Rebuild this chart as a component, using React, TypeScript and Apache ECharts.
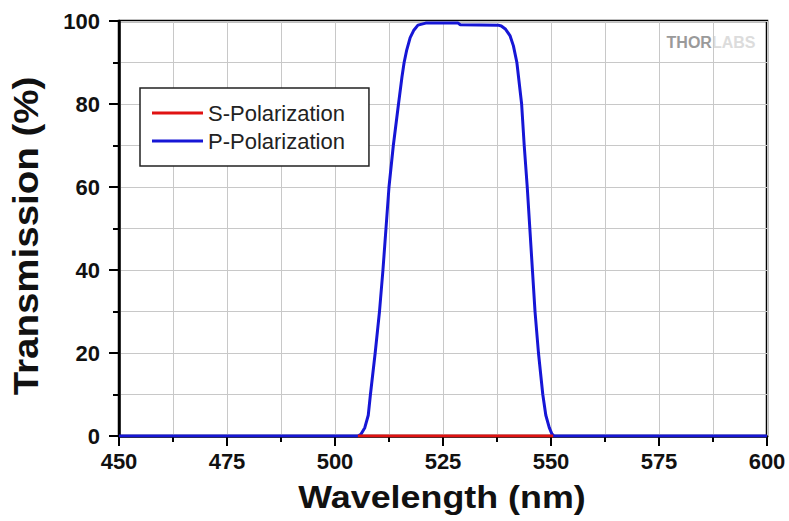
import React, { useEffect, useRef } from "react";
import * as echarts from "echarts";

const wavelengthP = [450, 504, 505.3, 506, 506.9, 507.7, 508.2, 509.3, 510.3, 511.1, 511.8, 512.5, 513.5, 514.7, 515.5, 516.0, 516.6, 517.4, 518.2, 519.2, 521, 528.5, 529, 537.8, 538.5, 539.5, 540.5, 541.3, 542.1, 543.2, 543.8, 544.5, 545.1, 545.7, 546.3, 547.1, 548.1, 548.8, 549.6, 550.2, 550.7, 600];
const transP = [0, 0, 0, 0.4, 2, 5, 10, 20, 30, 40, 50, 60, 70, 80, 86.5, 90, 93, 96, 97.7, 99, 99.5, 99.5, 99.1, 99, 98.8, 98, 96.5, 94, 90, 80, 70, 60, 50, 40, 30, 20, 10, 5, 2, 0.5, 0, 0];

const wavelengthS = [505.3, 550.5];
const transS = [0, 0];

const seriesNames = ["S-Polarization", "P-Polarization"];
const xTicks = { min: 450, max: 600, step: 25 };
const yTicks = { min: 0, max: 100, step: 20 };

const FONT = "Liberation Sans";

export default function App() {
  const ref = useRef<HTMLDivElement>(null);
  useEffect(() => {
    if (!ref.current) return;
    const chart = echarts.init(ref.current, null, { renderer: "svg" });
    const pData = wavelengthP.map((w, i) => [w, transP[i]]);
    const sData = wavelengthS.map((w, i) => [w, transS[i]]);
    const labelStyle = {
      fontSize: 22,
      fontWeight: "bold",
      color: "#111",
      fontFamily: FONT,
    };
    chart.setOption({
      animation: false,
      backgroundColor: "#ffffff",
      textStyle: { fontFamily: FONT },
      grid: {
        left: 119,
        right: 22,
        top: 21,
        bottom: 85,
        show: true,
        borderColor: "#000",
        borderWidth: 2.5,
        backgroundColor: "transparent",
      },
      legend: {
        data: seriesNames,
        orient: "vertical",
        left: 140,
        top: 88,
        padding: [14, 24, 14, 12],
        icon: "rect",
        itemWidth: 51,
        itemHeight: 3,
        itemGap: 6,
        backgroundColor: "#fff",
        borderColor: "#222",
        borderWidth: 1.5,
        borderRadius: 0,
        textStyle: { fontSize: 22, color: "#222", fontFamily: FONT },
      },
      xAxis: {
        type: "value",
        min: xTicks.min,
        max: xTicks.max,
        interval: xTicks.step,
        axisLine: { show: true, lineStyle: { color: "#000", width: 2.5 } },
        axisTick: { show: true, length: 10, lineStyle: { color: "#000", width: 2 } },
        minorTick: { show: true, splitNumber: 2, length: 6, lineStyle: { color: "#000", width: 2 } },
        splitLine: { show: true, lineStyle: { color: "#c8c8c8", width: 1 } },
        minorSplitLine: { show: true, lineStyle: { color: "#c8c8c8", width: 1 } },
        axisLabel: {
          margin: 14,
          ...labelStyle,
          rich: { v: { ...labelStyle } },
          formatter: (v: number) => `{v|${v}}`,
        },
      },
      yAxis: {
        type: "value",
        min: yTicks.min,
        max: yTicks.max,
        interval: yTicks.step,
        axisLine: { show: true, lineStyle: { color: "#000", width: 2.5 } },
        axisTick: { show: true, length: 10, lineStyle: { color: "#000", width: 2 } },
        minorTick: { show: true, splitNumber: 2, length: 6, lineStyle: { color: "#000", width: 2 } },
        splitLine: { show: true, lineStyle: { color: "#c8c8c8", width: 1 } },
        minorSplitLine: { show: true, lineStyle: { color: "#c8c8c8", width: 1 } },
        axisLabel: {
          margin: 19,
          ...labelStyle,
          rich: { v: { ...labelStyle } },
          formatter: (v: number) => `{v|${v}}`,
        },
      },
      graphic: [
        {
          type: "text",
          x: 442,
          y: 497,
          scaleX: 1.12,
          style: {
            text: "Wavelength (nm)",
            fontSize: 32,
            fontWeight: "bold",
            fontFamily: FONT,
            fill: "#111",
            align: "center",
            verticalAlign: "middle",
            textAlign: "center",
            textVerticalAlign: "middle",
          },
        },
        {
          type: "text",
          x: 26,
          y: 236,
          rotation: Math.PI / 2,
          scaleX: 1.1,
          style: {
            text: "Transmission (%)",
            fontSize: 35,
            fontWeight: "bold",
            fontFamily: FONT,
            fill: "#111",
            align: "center",
            verticalAlign: "middle",
            textAlign: "center",
            textVerticalAlign: "middle",
          },
        },
        {
          type: "text",
          x: 711,
          y: 42,
          style: {
            text: "{a|THOR}{b|LABS}",
            align: "center",
            verticalAlign: "middle",
            textAlign: "center",
            textVerticalAlign: "middle",
            rich: {
              a: { fontSize: 16, fontWeight: "bold", fontFamily: FONT, fill: "#9a9a9a", color: "#9a9a9a" },
              b: { fontSize: 16, fontWeight: "bold", fontFamily: FONT, fill: "#dcdcdc", color: "#dcdcdc" },
            },
          },
        },
      ],
      series: [
        {
          name: seriesNames[0],
          type: "line",
          data: sData,
          symbol: "none",
          z: 4,
          lineStyle: { color: "#e01212", width: 3 },
          itemStyle: { color: "#e01212" },
        },
        {
          name: seriesNames[1],
          type: "line",
          data: pData,
          symbol: "none",
          z: 3,
          lineStyle: { color: "#1616d6", width: 3 },
          itemStyle: { color: "#1616d6" },
        },
      ],
    });
    return () => chart.dispose();
  }, []);
  return (
    <div
      ref={ref}
      style={{ position: "fixed", left: 0, top: 0, width: 789, height: 521 }}
    />
  );
}
